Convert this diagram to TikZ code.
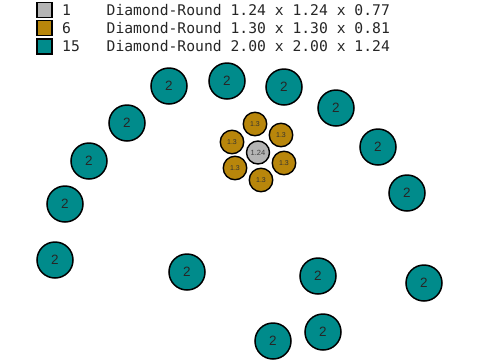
\documentclass[tikz,border=0pt]{standalone}
\usepackage{fontspec}
\setmainfont{Liberation Sans}
\newfontfamily\legfont{DejaVu Sans Mono}
\definecolor{cteal}{HTML}{008B8B}
\definecolor{cgold}{HTML}{B8860B}
\definecolor{cgray}{HTML}{B4B4B4}
\begin{document}
\begin{tikzpicture}[x=1pt,y=-1pt,
  big/.style={circle,draw=black,line width=1.5pt,fill=cteal,minimum size=36pt,inner sep=0pt,font=\fontsize{13.5}{13.5}\selectfont,text=black!85},
  small/.style={circle,draw=black,line width=1.4pt,fill=cgold,minimum size=23.5pt,inner sep=0pt,font=\fontsize{7}{7}\selectfont,text=black!80},
  mid/.style={circle,draw=black,line width=1.4pt,fill=cgray,minimum size=23pt,inner sep=0pt,font=\fontsize{7.5}{7.5}\selectfont,text=black!75},
  legbox/.style={draw=black,line width=1.3pt,minimum size=15pt,inner sep=0pt},
  legtext/.style={anchor=west,inner sep=0pt,font=\legfont\fontsize{14.7}{14.7}\selectfont,text=black!85}]
\useasboundingbox (0,0) rectangle (480,360);
% legend
\node[legbox,fill=cgray] (l1) at (44.5,10) {};
\node[legbox,fill=cgold] (l2) at (44.5,28) {};
\node[legbox,fill=cteal] (l3) at (44.5,46.5) {};
\node[legtext] (n1) at (62,10) {1};
\node[legtext] (n2) at (62,28) {6};
\node[legtext] (n3) at (62,46.5) {15};
\node[legtext] (t1) at (106.5,10) {Diamond-Round 1.24 x 1.24 x 0.77};
\node[legtext] (t2) at (106.5,28) {Diamond-Round 1.30 x 1.30 x 0.81};
\node[legtext] (t3) at (106.5,46.5) {Diamond-Round 2.00 x 2.00 x 1.24};
% big teal
\node[big] (b1) at (169,86) {2};
\node[big] (b2) at (227,81) {2};
\node[big] (b3) at (284,87) {2};
\node[big] (b4) at (336,108) {2};
\node[big] (b5) at (127,123) {2};
\node[big] (b6) at (89,161) {2};
\node[big] (b7) at (378,147) {2};
\node[big] (b8) at (65,204) {2};
\node[big] (b9) at (407,193) {2};
\node[big] (b10) at (55,260) {2};
\node[big] (b11) at (187,272) {2};
\node[big] (b12) at (318,276) {2};
\node[big] (b13) at (424,283) {2};
\node[big] (b14) at (273,341) {2};
\node[big] (b15) at (323,332) {2};
% gold
\node[small] (g1) at (255,124) {1.3};
\node[small] (g2) at (281,135) {1.3};
\node[small] (g3) at (232,142) {1.3};
\node[small] (g4) at (284,163) {1.3};
\node[small] (g5) at (235,168) {1.3};
\node[small] (g6) at (261,180) {1.3};
% gray
\node[mid] (c1) at (258,152.5) {1.24};
\end{tikzpicture}
\end{document}
